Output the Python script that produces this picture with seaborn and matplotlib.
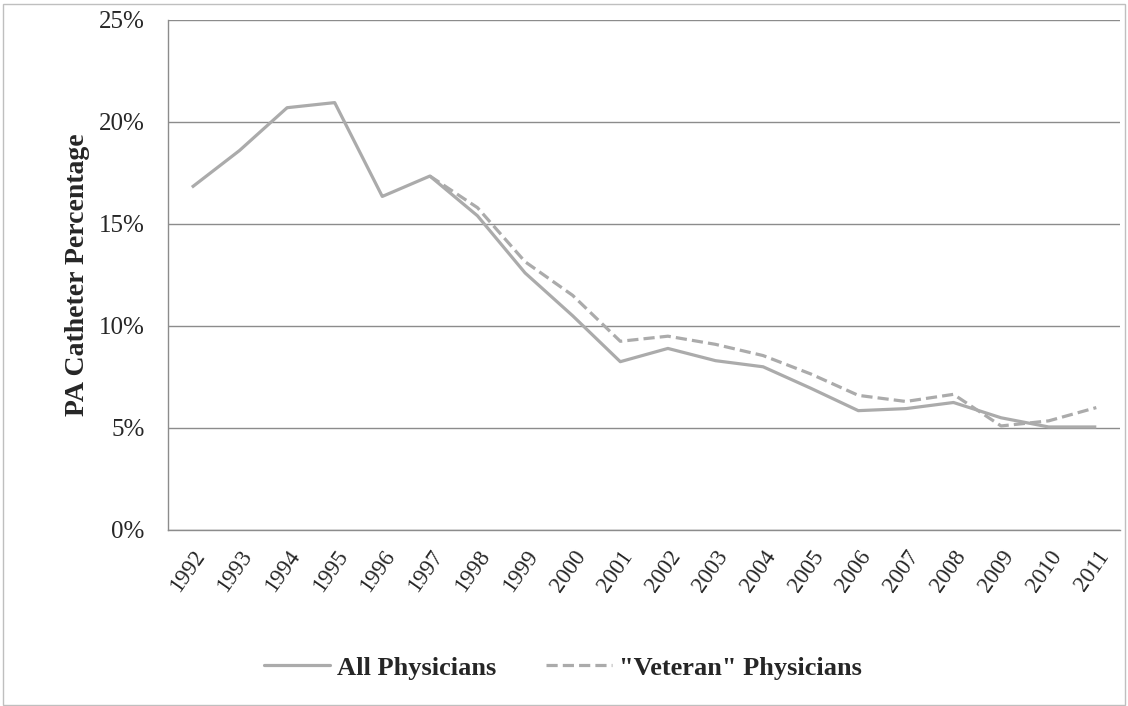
import numpy as np
import pandas as pd
import seaborn as sns
import matplotlib.pyplot as plt
import matplotlib.transforms as mtransforms
from matplotlib.ticker import PercentFormatter

years = list(range(1992, 2012))
all_phys = [16.8, 18.6, 20.7, 20.95, 16.35, 17.35, 15.4, 12.6, 10.5, 8.25,
            8.9, 8.3, 8.0, 6.95, 5.85, 5.95, 6.25, 5.5, 5.05, 5.05]
veteran = [np.nan, np.nan, np.nan, np.nan, np.nan, 17.35, 15.8, 13.15, 11.5, 9.25,
           9.5, 9.1, 8.55, 7.65, 6.6, 6.3, 6.65, 5.1, 5.35, 6.0]
series_names = ['All Physicians', '"Veteran" Physicians']

df = pd.DataFrame({'year': years * 2,
                   'pct': all_phys + veteran,
                   'group': [series_names[0]] * len(years) + [series_names[1]] * len(years)})

sns.set_theme(style='white')
plt.rcParams['font.family'] = ['Liberation Serif', 'DejaVu Serif']

fig, ax = plt.subplots(figsize=(11.28, 7.06), dpi=100)
fig.subplots_adjust(left=0.149, right=0.993, top=0.9717, bottom=0.2493)

sns.lineplot(data=df, x='year', y='pct', hue='group', style='group',
             palette=['#ABABAB', '#ABABAB'], dashes=[(1, 0), (3.5, 1.6)],
             linewidth=2.3, ax=ax, legend=False)

ax.set_xlim(1991.5, 2011.5)
ax.set_ylim(0, 25)
ax.set_yticks([0, 5, 10, 15, 20, 25])
ax.yaxis.set_major_formatter(PercentFormatter(decimals=0))
ax.set_xticks(years)
ax.set_xticklabels([str(y) for y in years], rotation=55, ha='right', va='top',
                   rotation_mode='anchor', fontsize=16.5)
# shift the slanted year labels a little to the right, like the original
shift = mtransforms.ScaledTranslation(5 / 72, 0, fig.dpi_scale_trans)
for lab in ax.get_xticklabels():
    lab.set_transform(lab.get_transform() + shift)
ax.tick_params(axis='y', length=0, pad=17, labelsize=18)
ax.tick_params(axis='x', length=0, pad=12)
ax.grid(axis='y', color='#8C8C8C', linewidth=1)
ax.set_axisbelow(True)
for side in ['top', 'right']:
    ax.spines[side].set_visible(False)
for side in ['left', 'bottom']:
    ax.spines[side].set_color('#8C8C8C')
    ax.spines[side].set_linewidth(1)
ax.set_xlabel('')
ax.set_ylabel('PA Catheter Percentage', fontsize=20, fontweight='bold', labelpad=6)

h1, = ax.plot([], [], color='#ABABAB', lw=2.3)
h2, = ax.plot([], [], color='#ABABAB', lw=2.3, dashes=(3.5, 1.6))
fig.legend([h1, h2], series_names, loc='center', bbox_to_anchor=(0.499, 0.054),
           ncol=2, frameon=False, handlelength=2.5, handletextpad=0.27,
           columnspacing=1.9, prop={'weight': 'bold', 'size': 19})

fig.patches.append(plt.Rectangle((0.003, 0.002), 0.994, 0.993, transform=fig.transFigure,
                                 fill=False, edgecolor='#BFBFBF', linewidth=1))

fig.savefig('out.png', dpi=100)
